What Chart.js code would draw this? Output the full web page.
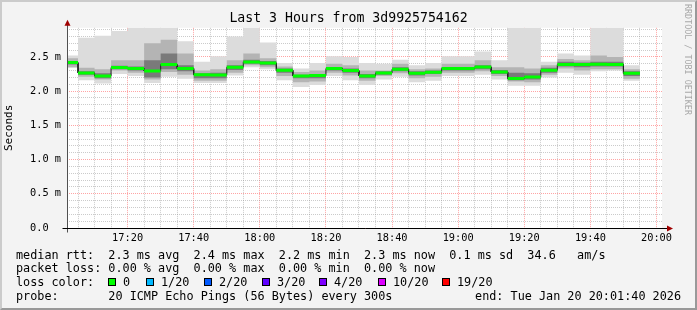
<!DOCTYPE html>
<html>
<head>
<meta charset="utf-8">
<script src="https://cdn.jsdelivr.net/npm/chart.js@4/dist/chart.umd.min.js"></script>
<style>
  html, body { margin: 0; padding: 0; background: #f3f3f3; }
  #wrap { position: relative; width: 697px; height: 310px; background: #f3f3f3; overflow: hidden; }
  #frame { position: absolute; left: 0; top: 0; width: 697px; height: 310px; box-sizing: border-box;
           border-top: 2px solid #cbcbcb; border-left: 2px solid #cbcbcb;
           border-right: 2px solid #999; border-bottom: 2px solid #999; pointer-events: none; }
  canvas { position: absolute; left: 0; top: 0; }
  .txt { position: absolute; font: 11.8px "DejaVu Sans Mono", monospace; line-height: 14px; white-space: pre; color: #000; }
  .box { position: absolute; width: 6px; height: 6px; border: 1px solid #000; top: 278px; }
  #mark { position: absolute; left: 683px; top: 4px; writing-mode: vertical-rl; font: 8.4px "DejaVu Sans Mono", monospace;
          line-height: 10px; color: #a8a8a8; white-space: pre; }
</style>
</head>
<body>
<div id="wrap">
  <canvas id="c" width="697" height="310"></canvas>
  <div id="mark">RRDTOOL / TOBI OETIKER</div>
  <div class="txt" style="left:16px;top:248px">median rtt:  2.3 ms avg  2.4 ms max  2.2 ms min  2.3 ms now  0.1 ms sd  34.6   am/s</div>
  <div class="txt" style="left:16px;top:261px">packet loss: 0.00 % avg  0.00 % max  0.00 % min  0.00 % now</div>
  <div class="txt" style="left:16px;top:275px">loss color:</div>
  <div id="loss"></div>
  <div class="txt" style="left:16px;top:289px">probe:       20 ICMP Echo Pings (56 Bytes) every 300s</div>
  <div class="txt" style="right:16px;top:289px">end: Tue Jan 20 20:01:40 2026</div>
  <div id="frame"></div>
</div>
<script>
// 5-minute bins, first one starts 17:00 (graph window 17:01:40 - 20:01:40), values in ms
var binMinutes = 5;
var firstBin = 17 * 60;
var viewStart = 17 * 60 + 1 + 40 / 60;
var viewEnd = 20 * 60 + 1 + 40 / 60;

var median = [2.417, 2.266, 2.222, 2.344, 2.33, 2.295, 2.388, 2.33, 2.24, 2.237, 2.349, 2.427,
  2.412, 2.305, 2.222, 2.227, 2.33, 2.30, 2.222, 2.266, 2.32, 2.26, 2.276, 2.33, 2.33, 2.354,
  2.28, 2.183, 2.207, 2.305, 2.388, 2.388, 2.393, 2.39, 2.26];
var smokeMax = [2.52, 2.78, 2.81, 2.88, 2.95, 2.95, 2.95, 2.73, 2.43, 2.51, 2.80, 2.95,
  2.71, 2.41, 2.33, 2.41, 2.51, 2.50, 2.41, 2.40, 2.46, 2.38, 2.41, 2.51, 2.51, 2.58,
  2.45, 2.95, 2.95, 2.43, 2.55, 2.52, 2.95, 2.95, 2.38];
var smokeMin = [2.34, 2.16, 2.11, 2.25, 2.22, 2.12, 2.21, 2.18, 2.12, 2.12, 2.23, 2.35,
  2.32, 2.16, 2.06, 2.09, 2.22, 2.16, 2.09, 2.17, 2.21, 2.13, 2.15, 2.22, 2.22, 2.24,
  2.17, 2.08, 2.08, 2.20, 2.27, 2.24, 2.29, 2.30, 2.15];
var midHi = [2.48, 2.34, 2.32, 2.45, 2.45, 2.70, 2.75, 2.55, 2.30, 2.32, 2.45, 2.55,
  2.48, 2.36, 2.28, 2.30, 2.40, 2.38, 2.30, 2.30, 2.40, 2.32, 2.33, 2.40, 2.40, 2.45,
  2.35, 2.35, 2.33, 2.38, 2.47, 2.45, 2.52, 2.50, 2.32];
var midLo = [2.35, 2.21, 2.17, 2.30, 2.27, 2.17, 2.28, 2.24, 2.15, 2.15, 2.27, 2.38,
  2.35, 2.22, 2.13, 2.14, 2.27, 2.23, 2.15, 2.22, 2.26, 2.19, 2.21, 2.27, 2.27, 2.29,
  2.22, 2.14, 2.13, 2.24, 2.33, 2.30, 2.32, 2.32, 2.18];
var innerHi = [2.44, 2.29, 2.26, 2.37, 2.36, 2.45, 2.55, 2.38, 2.26, 2.27, 2.38, 2.46,
  2.44, 2.33, 2.24, 2.25, 2.35, 2.33, 2.25, 2.29, 2.35, 2.29, 2.30, 2.35, 2.35, 2.38,
  2.31, 2.27, 2.26, 2.34, 2.43, 2.42, 2.43, 2.43, 2.29];
var innerLo = [2.39, 2.24, 2.19, 2.32, 2.30, 2.20, 2.32, 2.29, 2.19, 2.19, 2.31, 2.40,
  2.38, 2.27, 2.19, 2.19, 2.30, 2.27, 2.19, 2.24, 2.29, 2.23, 2.25, 2.30, 2.30, 2.32,
  2.25, 2.16, 2.17, 2.27, 2.36, 2.35, 2.36, 2.36, 2.22];

var yMax = 2.925;
var lossLabels = ['0', '1/20', '2/20', '3/20', '4/20', '10/20', '19/20'];
var lossColors = ['#00ff00', '#00b8ff', '#0059ff', '#5e00ff', '#7e00ff', '#dd00ff', '#ff0000'];
var lossBoxX = [108, 146, 204, 262, 319, 378, 442];

// legend boxes
var loss = document.getElementById('loss');
lossLabels.forEach(function (l, i) {
  var b = document.createElement('div');
  b.className = 'box';
  b.style.left = lossBoxX[i] + 'px';
  b.style.background = lossColors[i];
  loss.appendChild(b);
  var t = document.createElement('div');
  t.className = 'txt';
  t.style.left = (lossBoxX[i] + 15) + 'px';
  t.style.top = '275px';
  t.textContent = l;
  loss.appendChild(t);
});

function steps(vals) {
  var pts = [];
  vals.forEach(function (v, i) {
    var s = firstBin + i * binMinutes;
    pts.push({ x: s, y: v }, { x: s + binMinutes, y: v });
  });
  return pts;
}
function pieces(vals) {
  var pts = [];
  vals.forEach(function (v, i) {
    var s = firstBin + i * binMinutes;
    pts.push({ x: s, y: v }, { x: s + binMinutes, y: v }, { x: s + binMinutes, y: null });
  });
  return pts;
}
function band(data, color, fill, order) {
  return { data: data, fill: fill, backgroundColor: color, borderWidth: 0, pointRadius: 0, order: order };
}

var xGrid = [];
for (var m = 1025; m <= 1200; m += 5) xGrid.push(m);
var yGrid = [];
for (var k = 0; k <= 29; k++) yGrid.push(k / 10);

function isMajorX(v) { return v % 20 === 0; }
function isMajorY(v) { return Math.abs(v * 2 - Math.round(v * 2)) < 1e-6; }
var minorGrid = 'rgba(140,140,140,0.45)';
var majorGrid = 'rgba(255,90,90,0.55)';
var mono = 'DejaVu Sans Mono';

var chartBg = {
  id: 'chartBg',
  beforeDraw: function (chart) {
    var a = chart.chartArea, ctx = chart.ctx;
    ctx.save();
    ctx.fillStyle = '#ffffff';
    ctx.fillRect(a.left, a.top, a.right - a.left, a.bottom - a.top);
    ctx.restore();
  },
  afterDraw: function (chart) {
    var a = chart.chartArea, ctx = chart.ctx;
    var l = Math.round(a.left) + 0.5, b = Math.round(a.bottom) + 0.5;
    ctx.save();
    ctx.lineWidth = 1;
    ctx.strokeStyle = '#505050';
    ctx.beginPath();
    ctx.moveTo(l, b + 4);
    ctx.lineTo(l, a.top - 4);
    ctx.stroke();
    ctx.strokeStyle = '#000';
    ctx.beginPath();
    ctx.moveTo(l - 5, b);
    ctx.lineTo(a.right + 7, b);
    ctx.stroke();
    ctx.fillStyle = '#a00000';
    ctx.beginPath();
    ctx.moveTo(l - 3, a.top - 2);
    ctx.lineTo(l + 3, a.top - 2);
    ctx.lineTo(l, a.top - 8);
    ctx.closePath();
    ctx.fill();
    ctx.beginPath();
    ctx.moveTo(a.right + 5, b - 3);
    ctx.lineTo(a.right + 5, b + 3);
    ctx.lineTo(a.right + 11, b);
    ctx.closePath();
    ctx.fill();
    ctx.restore();
  }
};

new Chart(document.getElementById('c'), {
  type: 'line',
  data: {
    datasets: [
      band(steps(smokeMax), '#dcdcdc', '+1', 6),
      band(steps(smokeMin), '#dcdcdc', false, 6),
      band(steps(midHi), '#b4b4b4', '+1', 5),
      band(steps(midLo), '#b4b4b4', false, 5),
      band(steps(innerHi), '#7a7a7a', '+1', 4),
      band(steps(innerLo), '#7a7a7a', false, 4),
      { data: steps(median), borderColor: '#202020', borderWidth: 1, pointRadius: 0, fill: false, order: 2 },
      { data: pieces(median), borderColor: '#00ff00', borderWidth: 3, pointRadius: 0, fill: false,
        borderCapStyle: 'butt', order: 1 }
    ]
  },
  options: {
    responsive: false,
    animation: false,
    events: [],
    layout: { padding: 0 },
    plugins: {
      legend: { display: false },
      tooltip: { enabled: false },
      title: {
        display: true,
        text: 'Last 3 Hours from 3d9925754162',
        color: '#000',
        font: { family: mono, size: 13.2, weight: 'normal' },
        padding: { top: 11, bottom: 1 }
      }
    },
    scales: {
      x: {
        type: 'linear',
        min: viewStart,
        max: viewEnd,
        z: 1,
        afterBuildTicks: function (s) { s.ticks = xGrid.map(function (v) { return { value: v }; }); },
        afterFit: function (s) { s.height = 82; },
        grid: {
          drawTicks: false,
          color: function (c) { return c.tick && isMajorX(c.tick.value) ? majorGrid : minorGrid; }
        },
        border: { display: false, dash: [1, 1] },
        ticks: {
          autoSkip: false,
          maxRotation: 0,
          padding: 4,
          color: '#000',
          font: { family: mono, size: 10.3 },
          callback: function (v) {
            if (!isMajorX(v)) return '';
            var h = Math.floor(v / 60), mm = v % 60;
            return h + ':' + (mm < 10 ? '0' : '') + mm;
          }
        }
      },
      y: {
        min: 0,
        max: yMax,
        z: 1,
        afterBuildTicks: function (s) { s.ticks = yGrid.map(function (v) { return { value: v }; }); },
        afterFit: function (s) { s.width = 67; },
        grid: {
          drawTicks: false,
          color: function (c) { return c.tick && isMajorY(c.tick.value) ? majorGrid : minorGrid; }
        },
        border: { display: false, dash: [1, 1] },
        title: {
          display: true,
          text: 'Seconds',
          color: '#000',
          font: { family: mono, size: 11 },
          padding: { top: 3, bottom: 0 }
        },
        ticks: {
          autoSkip: false,
          padding: 6,
          color: '#000',
          font: { family: mono, size: 10.3 },
          callback: function (v) {
            if (!isMajorY(v)) return '';
            return v === 0 ? '0.0  ' : v.toFixed(1) + ' m';
          }
        }
      },
      // empty right-hand strip that holds the watermark area
      side: {
        position: 'right',
        min: 0,
        max: 1,
        afterFit: function (s) { s.width = 35; },
        grid: { display: false },
        border: { display: false },
        ticks: { display: false }
      }
    }
  },
  plugins: [chartBg]
});
</script>
</body>
</html>
